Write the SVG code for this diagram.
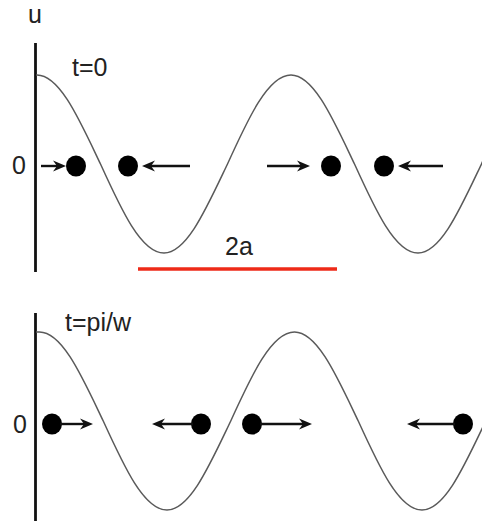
<svg xmlns="http://www.w3.org/2000/svg" width="482" height="522" viewBox="0 0 482 522">
<style>
text{font-family:"Liberation Sans",Arial,sans-serif;font-size:25px;fill:#222}
.axis{stroke:#111;stroke-width:2.8;fill:none}
.wave{stroke:#5a5a5a;stroke-width:1.5;fill:none}
.arr{stroke:#111;stroke-width:2.4;fill:none;marker-end:url(#ah)}
.dot{fill:#000}
.red{stroke:#ee2a18;stroke-width:3.6}
</style>
<defs>
<marker id="ah" viewBox="-14 -7 15 14" markerWidth="15" markerHeight="14" refX="-6" refY="0" orient="auto" markerUnits="userSpaceOnUse">
<path d="M0,0 L-13,-5.5 L-9,0 L-13,5.5 Z" fill="#111"/>
</marker>
</defs>
<rect width="482" height="522" fill="#fff"/>
<g id="top-panel">
<line class="axis" x1="35.5" y1="43" x2="35.5" y2="272"/>
<text x="28" y="23">u</text>
<text x="72" y="76">t=0</text>
<text x="12" y="174">0</text>
<path class="wave" d="M36,75 L37,75 c22.98,0 42.79,45.59 63.5,89 c20.71,45.59 40.52,89 63.5,89 c22.98,0 42.79,-45.59 63.5,-89 c20.71,-45.59 40.52,-89 63.5,-89 c22.98,0 42.79,45.59 63.5,89 c20.71,45.59 40.52,89 63.5,89 c22.98,0 42.79,-45.59 63.5,-89 c20.71,-45.59 40.52,-89 63.5,-89"/>
<line class="red" x1="138" y1="269" x2="337" y2="269"/>
<text x="225" y="255">2a</text>
</g>
<g id="top-particles">
<ellipse id="p1" class="dot" cx="76" cy="166" rx="10" ry="10.5"/>
<ellipse id="p2" class="dot" cx="128" cy="166" rx="10" ry="10.5"/>
<ellipse id="p3" class="dot" cx="331" cy="166" rx="10" ry="10.5"/>
<ellipse id="p4" class="dot" cx="384" cy="166" rx="10" ry="10.5"/>
</g>
<g id="bottom-panel">
<line class="axis" x1="35.5" y1="313" x2="35.5" y2="521"/>
<text x="65" y="331">t=pi/w</text>
<text x="13" y="433">0</text>
<path class="wave" d="M36,332 L39.5,332 c23.07,0 42.96,45.59 63.750,89 c20.79,45.59 40.68,89 63.75,89 c23.07,0 42.96,-45.59 63.75,-89 c20.79,-45.59 40.68,-89 63.75,-89 c23.07,0 42.96,45.59 63.75,89 c20.79,45.59 40.68,89 63.75,89 c23.07,0 42.96,-45.59 63.75,-89 c20.79,-45.59 40.68,-89 63.75,-89"/>
</g>
<g id="bottom-particles">
<ellipse id="q1" class="dot" cx="52" cy="424" rx="10" ry="10.5"/>
<ellipse id="q2" class="dot" cx="201" cy="424" rx="10" ry="10.5"/>
<ellipse id="q3" class="dot" cx="252" cy="424" rx="10" ry="10.5"/>
<ellipse id="q4" class="dot" cx="463" cy="424" rx="10" ry="10.5"/>
</g>
<g id="connectors">
<line class="arr" x1="41" y1="166" x2="60" y2="166"/>
<line class="arr" x1="190" y1="166" x2="148" y2="166"/>
<line class="arr" x1="267" y1="166" x2="304" y2="166"/>
<line class="arr" x1="443" y1="166" x2="404" y2="166"/>
<line class="arr" x1="60" y1="424" x2="87" y2="424"/>
<line class="arr" x1="193" y1="424" x2="158" y2="424"/>
<line class="arr" x1="260" y1="424" x2="306" y2="424"/>
<line class="arr" x1="455" y1="424" x2="413" y2="424"/>
</g>
</svg>
